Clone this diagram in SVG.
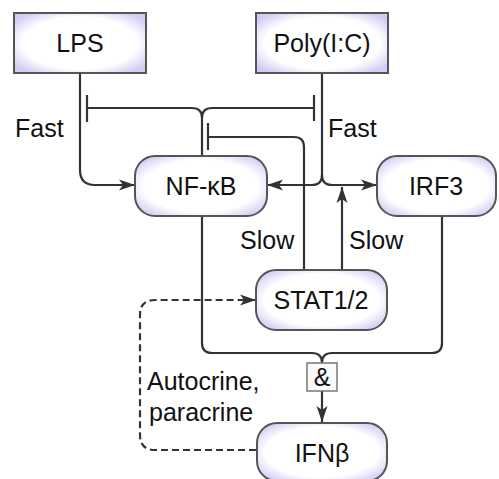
<svg xmlns="http://www.w3.org/2000/svg" width="499" height="479" viewBox="0 0 499 479">
<style>
.node{stroke:#555;stroke-width:2;fill:url(#g)}
.lbl{font-family:"Liberation Sans",Arial,sans-serif;font-size:25px;fill:#111}
.c{text-anchor:middle}
.ln{fill:none;stroke:#333;stroke-width:2.2}
.dash{stroke-dasharray:7,4}
</style>
<defs>
<radialGradient id="g" cx="50%" cy="50%" r="62%">
<stop offset="0.7" stop-color="#ffffff"/>
<stop offset="1" stop-color="#d3cbf6"/>
</radialGradient>
<marker id="a" markerWidth="17" markerHeight="12" refX="16" refY="6" orient="auto" markerUnits="userSpaceOnUse">
<path d="M0,0.5 L16,6 L0,11.5 L4,6 Z" fill="#333"/>
</marker>
</defs>
<rect width="499" height="479" fill="#fff"/>
<g id="connectors">
<path class="ln" d="M80,73 V170 Q80,185 95,185 H135" marker-end="url(#a)"/>
<path class="ln" d="M322,73 V175 Q322,185 312,185 H267" marker-end="url(#a)"/>
<path class="ln" d="M322,175 Q322,185 332,185 H377" marker-end="url(#a)"/>
<path class="ln" d="M202,156 V118 Q202,108 192,108 H87 M202,118 Q202,108 212,108 H314"/>
<path class="ln" stroke-width="3.2" d="M87,95 V122 M314,95 V121"/>
<path class="ln" d="M304,270 V147 Q304,137 294,137 H208"/>
<path class="ln" stroke-width="3.2" d="M208,123 V150"/>
<path class="ln" d="M342,270 V187" marker-end="url(#a)"/>
<path class="ln" d="M202,216 V343 Q202,353 212,353 H312 Q322,353 322,363 M442,216 V343 Q442,353 432,353 H332 Q322,353 322,363"/>
<path class="ln" d="M322,391 V422" marker-end="url(#a)"/>
<path class="ln dash" d="M256,450 H155 Q140,450 140,435 V315 Q140,300 155,300 H256" marker-end="url(#a)"/>
</g>
<g id="lps"><rect class="node" x="14" y="13" width="132" height="60"/><text class="lbl c" x="80" y="52">LPS</text></g>
<g id="polyic"><rect class="node" x="256" y="13" width="132" height="60"/><text class="lbl c" x="322" y="52">Poly(I:C)</text></g>
<g id="nfkb"><rect class="node" x="135" y="156" width="132" height="60" rx="20"/><text class="lbl c" x="201" y="195">NF-κB</text></g>
<g id="irf3"><rect class="node" x="377" y="156" width="119" height="60" rx="20"/><text class="lbl c" x="436" y="195">IRF3</text></g>
<g id="stat"><rect class="node" x="256" y="270" width="131" height="60" rx="20"/><text class="lbl c" x="321" y="309">STAT1/2</text></g>
<g id="and"><rect x="307" y="363" width="30" height="28" fill="#fafafa" stroke="#777" stroke-width="1.5"/><text class="lbl c" x="322" y="386" font-size="22">&amp;</text></g>
<g id="ifnb"><rect class="node" x="257" y="423" width="130" height="58" rx="20"/><text class="lbl c" x="322" y="462">IFNβ</text></g>
<g id="labels">
<text class="lbl" x="15" y="137">Fast</text>
<text class="lbl" x="328" y="137">Fast</text>
<text class="lbl" x="240" y="249">Slow</text>
<text class="lbl" x="349" y="249">Slow</text>
<text class="lbl" x="147" y="390">Autocrine,</text>
<text class="lbl" x="149" y="421">paracrine</text>
</g>
</svg>
